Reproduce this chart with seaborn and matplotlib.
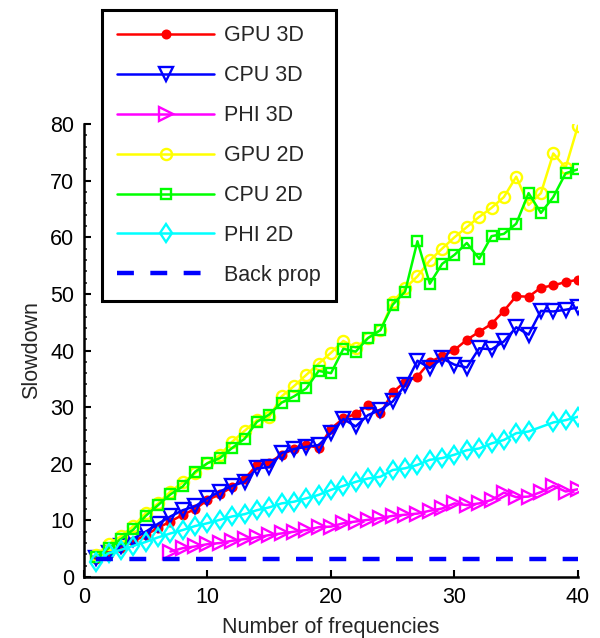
import matplotlib
matplotlib.use("Agg")
import matplotlib.pyplot as plt
from matplotlib.ticker import MultipleLocator
import seaborn as sns

# Slowdown versus number of frequencies for each device / dimensionality
freqs = list(range(1, 41))
gpu_3d = [3.2, 4.0, 5.2, 6.3, 7.4, 8.7, 9.8, 11.0, 12.0, 13.6,
          14.6, 15.9, 17.3, 19.8, 20.2, 21.6, 22.6, 23.3, 22.8, 26.2,
          28.0, 28.8, 30.3, 28.9, 32.6, 34.5, 35.4, 38.0, 39.0, 40.1,
          41.9, 43.3, 44.7, 47.0, 49.6, 49.5, 51.1, 51.5, 52.1, 52.5]
cpu_3d = [3.3, 4.2, 5.5, 6.8, 8.0, 9.4, 10.7, 11.8, 12.5, 13.9,
          15.1, 16.1, 16.8, 19.2, 19.4, 21.9, 22.6, 23.0, 23.3, 25.4,
          27.9, 26.6, 28.6, 29.5, 31.0, 33.9, 38.2, 36.9, 38.6, 37.5,
          37.0, 40.4, 40.2, 41.6, 44.1, 42.8, 47.0, 46.9, 47.2, 47.6]
phi_3d_freqs = list(range(7, 41))
phi_3d = [4.5, 5.1, 5.4, 5.8, 6.0, 6.4, 6.7, 7.0, 7.4, 7.7,
          8.0, 8.3, 8.8, 8.9, 9.5, 9.8, 10.1, 10.4, 10.8, 11.0,
          11.2, 11.7, 12.1, 13.0, 12.7, 13.0, 13.6, 14.9, 14.1, 14.2,
          15.0, 16.1, 15.1, 15.5]
gpu_2d = [3.8, 5.8, 7.2, 9.0, 11.3, 13.0, 15.1, 16.7, 18.3, 20.1,
          21.5, 23.9, 25.8, 27.7, 28.2, 31.9, 33.7, 35.7, 37.7, 39.6,
          41.7, 40.5, 42.2, 43.6, 48.6, 51.0, 53.1, 55.9, 58.0, 60.0,
          61.8, 63.6, 65.2, 67.1, 70.7, 65.7, 67.8, 74.8, 72.3, 79.7]
cpu_2d = [3.5, 5.1, 6.7, 8.4, 10.8, 12.7, 14.6, 16.0, 18.6, 20.1,
          21.0, 22.8, 24.4, 27.4, 28.7, 30.8, 31.9, 33.3, 36.4, 36.0,
          40.3, 39.8, 42.2, 43.6, 48.1, 50.4, 59.3, 51.8, 55.3, 56.9,
          59.0, 56.2, 60.2, 60.6, 62.4, 67.8, 64.3, 67.1, 71.3, 72.0]
phi_2d_freqs = [f for f in range(1, 41) if f != 37]
phi_2d = [2.7, 4.2, 4.8, 5.5, 6.2, 7.0, 7.7, 8.3, 9.0, 9.5,
          10.1, 10.7, 11.1, 11.8, 12.3, 13.0, 13.3, 13.9, 14.5, 15.4,
          16.1, 16.8, 17.4, 17.7, 18.9, 19.2, 19.8, 20.7, 21.0, 21.6,
          22.4, 22.7, 23.6, 24.2, 25.4, 25.7, 27.3, 27.7, 28.3]
backprop_freqs = [1, 40]
backprop = [3.1, 3.1]

labels = ["GPU 3D", "CPU 3D", "PHI 3D", "GPU 2D", "CPU 2D", "PHI 2D", "Back prop"]

sns.set_style("ticks")
plt.rcParams["font.family"] = ["Liberation Sans", "DejaVu Sans"]
fs = 15.5
plt.rcParams["font.size"] = fs

fig = plt.figure(figsize=(6.0, 6.38), dpi=100)
ax = fig.add_axes([0.14, 0.0956, 0.8233, 0.71])

lw = 1.8
mew = 1.7
series = [
    (freqs, gpu_3d, "#ff0000", "o", 5.5, True),
    (freqs, cpu_3d, "#0000ff", "v", 9.5, False),
    (phi_3d_freqs, phi_3d, "#ff00ff", ">", 9.5, False),
    (freqs, gpu_2d, "#ffff00", "o", 8, False),
    (freqs, cpu_2d, "#00ff00", "s", 6.5, False),
    (phi_2d_freqs, phi_2d, "#00ffff", "d", 9.5, False),
]
for (xs, ys, col, mk, ms, filled), lab in zip(series, labels):
    sns.lineplot(x=xs, y=ys, ax=ax, color=col, linewidth=lw, marker=mk,
                 markersize=ms, markerfacecolor=col if filled else "none",
                 markeredgecolor=col, markeredgewidth=mew, label=lab)

sns.lineplot(x=backprop_freqs, y=backprop, ax=ax, color="#0000ff",
             linewidth=3.2, dashes=(3.8, 3.7), label=labels[-1])

ax.set_xlim(0, 40)
ax.set_ylim(0, 80)
ax.set_xticks([0, 10, 20, 30, 40])
ax.set_yticks(range(0, 81, 10))
ax.yaxis.set_minor_locator(MultipleLocator(2))
ax.tick_params(which="major", direction="in", length=5, width=1.5,
               labelsize=fs, colors="black", pad=7)
ax.tick_params(which="minor", direction="in", length=2.5, width=1.2)
ax.tick_params(axis="x", which="minor", length=0)
sns.despine(ax=ax)
for side in ("left", "bottom"):
    ax.spines[side].set_linewidth(1.8)
    ax.spines[side].set_color("black")

ax.set_xlabel("Number of frequencies", fontsize=fs, labelpad=7)
ax.set_ylabel("Slowdown", fontsize=fs, labelpad=6)

handles, labs = ax.get_legend_handles_labels()
leg = ax.legend(handles, labs, loc="upper left",
                bbox_to_anchor=(0.17, 0.984), bbox_transform=fig.transFigure,
                frameon=True, fancybox=False, framealpha=1, edgecolor="black",
                fontsize=fs, handlelength=4.5, handletextpad=0.47,
                labelspacing=0.88, borderpad=0.7, borderaxespad=0)
leg.get_frame().set_linewidth(2.2)

fig.savefig("out.png", dpi=100)
